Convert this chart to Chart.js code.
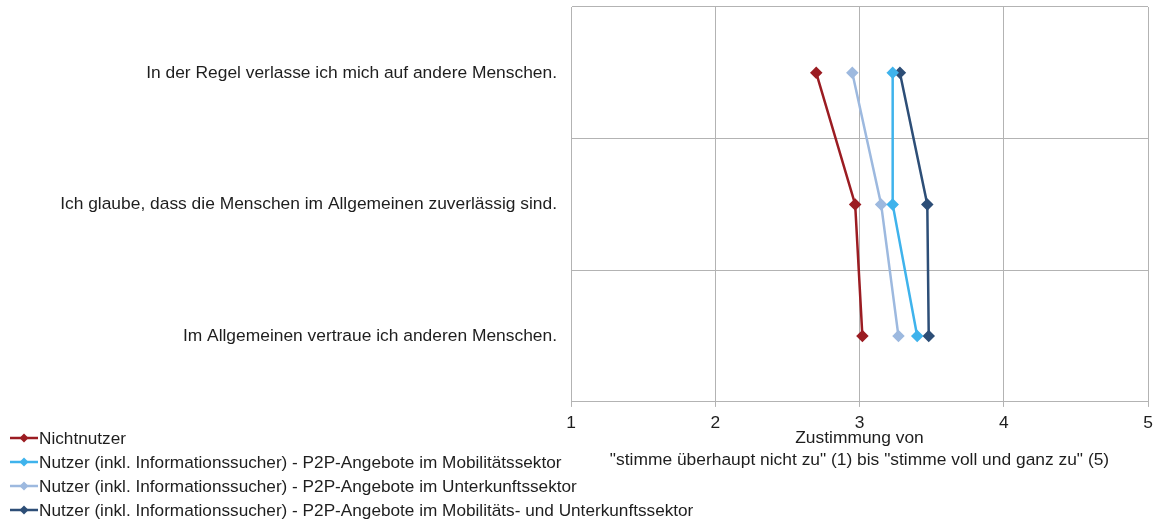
<!DOCTYPE html>
<html>
<head>
<meta charset="utf-8">
<script src="https://cdn.jsdelivr.net/npm/chart.js@4"></script>
<style>
  html, body { margin: 0; padding: 0; background: #fff; }
  #wrap { width: 1156px; height: 519px; }
</style>
</head>
<body>
<div id="wrap"><canvas id="c" width="1156" height="519"></canvas></div>
<script>
// Aussagen (Kategorien, von oben nach unten)
const statements = [
    'In der Regel verlasse ich mich auf andere Menschen.',
    'Ich glaube, dass die Menschen im Allgemeinen zuverlässig sind.',
    'Im Allgemeinen vertraue ich anderen Menschen.'
];
const seriesNames = [
    'Nichtnutzer',
    'Nutzer (inkl. Informationssucher) - P2P-Angebote im Mobilitätssektor',
    'Nutzer (inkl. Informationssucher) - P2P-Angebote im Unterkunftssektor',
    'Nutzer (inkl. Informationssucher) - P2P-Angebote im Mobilitäts- und Unterkunftssektor'
];
const nichtnutzer = [2.70, 2.97, 3.02];
const mobilitaet = [3.23, 3.23, 3.40];
const unterkunft = [2.95, 3.15, 3.27];
const beides = [3.28, 3.47, 3.48];
const xTicks = [1, 2, 3, 4, 5];
const axisTitle = ['Zustimmung von', '"stimme überhaupt nicht zu" (1) bis "stimme voll und ganz zu" (5)'];

const colors = ['#9b1c22', '#3fb3ec', '#9db9df', '#2d4e77'];
const values = [nichtnutzer, mobilitaet, unterkunft, beides];
const FONT = 'Liberation Sans, Arial, sans-serif';
const FS = 17.4;
const TEXT = '#1e1e1e';

// Legende unten links selbst zeichnen
const legendPlugin = {
    id: 'bottomLegend',
    afterDraw(chart) {
        const ctx = chart.ctx;
        ctx.save();
        ctx.font = '17.2px ' + FONT;
        ctx.textBaseline = 'middle';
        chart.data.datasets.forEach((ds, i) => {
            const y = 438 + i * 24;
            ctx.strokeStyle = ds.borderColor;
            ctx.lineWidth = 2.5;
            ctx.beginPath();
            ctx.moveTo(10, y);
            ctx.lineTo(38, y);
            ctx.stroke();
            ctx.fillStyle = ds.borderColor;
            ctx.beginPath();
            ctx.moveTo(24, y - 4.5);
            ctx.lineTo(28.5, y);
            ctx.lineTo(24, y + 4.5);
            ctx.lineTo(19.5, y);
            ctx.closePath();
            ctx.fill();
            ctx.fillStyle = TEXT;
            ctx.fillText(ds.label, 39, y + 1);
        });
        ctx.restore();
    }
};

new Chart(document.getElementById('c'), {
    type: 'line',
    data: {
        labels: statements,
        datasets: seriesNames.map((name, i) => ({
            label: name,
            data: values[i],
            borderColor: colors[i],
            backgroundColor: colors[i],
            borderWidth: 2.5,
            pointStyle: 'rectRot',
            pointRadius: 4.5,
            pointHoverRadius: 4.5,
            tension: 0
        }))
    },
    options: {
        indexAxis: 'y',
        responsive: false,
        animation: false,
        layout: { padding: { left: 0, right: 8, top: 7, bottom: 48 } },
        plugins: {
            legend: { display: false },
            tooltip: { enabled: false }
        },
        scales: {
            y: {
                type: 'category',
                offset: true,
                grid: { offset: true, color: '#b3b3b3', lineWidth: 1, drawTicks: false },
                border: { display: true, color: '#b3b3b3' },
                ticks: { color: TEXT, font: { family: FONT, size: FS }, padding: 14 },
                afterFit(scale) {
                    scale.width = 571;
                    scale.paddingTop = 0;
                    scale.paddingBottom = 0;
                }
            },
            x: {
                type: 'linear',
                min: 1,
                max: 5,
                afterBuildTicks(scale) { scale.ticks = xTicks.map(v => ({ value: v })); },
                grid: { color: '#b3b3b3', lineWidth: 1, tickLength: 5 },
                border: { display: true, color: '#b3b3b3' },
                ticks: { color: TEXT, font: { family: FONT, size: FS }, padding: 6 },
                title: {
                    display: true,
                    text: axisTitle,
                    color: TEXT,
                    font: { family: FONT, size: FS, lineHeight: 1.27 },
                    padding: { top: -13, bottom: 0 }
                },
                afterFit(scale) {
                    scale.paddingLeft = 0;
                    scale.paddingRight = 0;
                }
            }
        }
    },
    plugins: [legendPlugin]
});
</script>
</body>
</html>
